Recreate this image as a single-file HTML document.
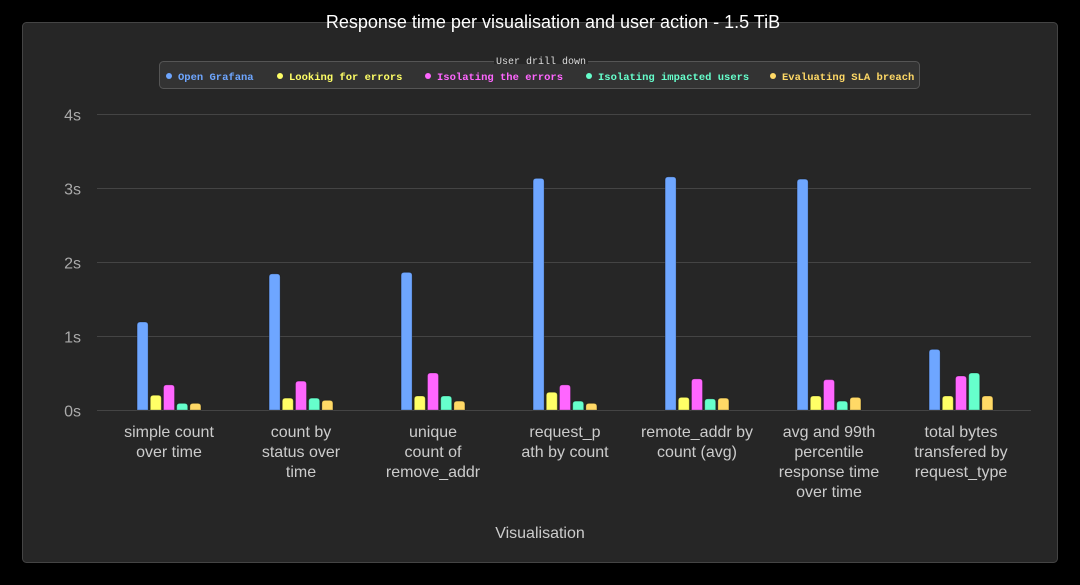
<!DOCTYPE html>
<html><head><meta charset="utf-8">
<style>
html,body{margin:0;padding:0;background:#000;width:1080px;height:585px;overflow:hidden}
svg{display:block}
.mono{font-family:"Liberation Mono",monospace}
.sans{font-family:"Liberation Sans",sans-serif}
</style></head>
<body>
<svg id="chart" width="1080" height="585">
  <rect x="0" y="0" width="1080" height="585" fill="#000"/>
  <rect x="22.5" y="22.5" width="1035" height="540" rx="4" fill="#262626" stroke="#444"/>
  <text x="553" y="28" text-anchor="middle" class="sans" font-size="18" fill="#fff">Response time per visualisation and user action - 1.5 TiB</text>
  <g id="legend">
    <rect x="159.5" y="61.5" width="760" height="27" rx="4" fill="#333" stroke="#555"/>
    <rect x="494" y="56" width="94" height="8" fill="#262626"/>
    <text x="541" y="64" text-anchor="middle" class="mono" font-size="10" fill="#ddd">User drill down</text>
  </g>
  <g id="grid"></g>
  <g id="bars"></g>
  <g id="xlabels"></g>
  <text x="540" y="538" text-anchor="middle" class="sans" font-size="16" fill="#ccc">Visualisation</text>
</svg>
<script>
const categories = [
  ["simple count","over time"],
  ["count by","status over","time"],
  ["unique","count of","remove_addr"],
  ["request_p","ath by count"],
  ["remote_addr by","count (avg)"],
  ["avg and 99th","percentile","response time","over time"],
  ["total bytes","transfered by","request_type"]
];
const seriesNames = ["Open Grafana","Looking for errors","Isolating the errors","Isolating impacted users","Evaluating SLA breach"];
const seriesColors = ["#6ea6ff","#ffff66","#ff66ff","#66ffcc","#ffd966"];
const openGrafana = [1.19,1.84,1.86,3.13,3.15,3.12,0.82];
const lookingForErrors = [0.20,0.16,0.19,0.24,0.17,0.19,0.19];
const isolatingErrors = [0.34,0.39,0.50,0.34,0.42,0.41,0.46];
const isolatingUsers = [0.09,0.16,0.19,0.12,0.15,0.12,0.50];
const evaluatingSLA = [0.09,0.13,0.12,0.09,0.16,0.17,0.19];
const yTicks = [0,1,2,3,4];
const yTickLabels = ["0s","1s","2s","3s","4s"];

const series = [openGrafana, lookingForErrors, isolatingErrors, isolatingUsers, evaluatingSLA];
const NS = "http://www.w3.org/2000/svg";
const plotL = 103, plotR = 1027, y0 = 410, yTop = 114, yMax = 4;
const yScale = v => y0 - (v / yMax) * (y0 - yTop);
const groupW = (plotR - plotL) / categories.length;
const xCenter = i => plotL + groupW * (i + 0.5);
const barW = 11, barStep = 13.2;

function mk(tag, attrs, parent){
  const e = document.createElementNS(NS, tag);
  for (const k in attrs) e.setAttribute(k, attrs[k]);
  parent.appendChild(e);
  return e;
}

const grid = document.getElementById('grid');
yTicks.forEach((t, i) => {
  const y = Math.round(yScale(t)) + 0.5;
  const l = mk('line', {x1: 97, x2: 1031, y1: y, y2: y, stroke: '#444', 'stroke-width': 1}, grid);
  
  
  const tx = mk('text', {x: 81, y: y + 6, 'text-anchor': 'end', 'font-size': 16, fill: '#aaa', class: 'sans'}, grid);
  tx.textContent = yTickLabels[i];
  
  
});

const bars = document.getElementById('bars');
categories.forEach((c, i) => {
  const cx = xCenter(i);
  series.forEach((s, j) => {
    const x = cx - (series.length * barStep - (barStep - barW)) / 2 + j * barStep;
    const yt = yScale(s[i]);
    const p = mk('path', {
      d: `M${x},${y0} L${x},${yt+3} Q${x},${yt} ${x+3},${yt} L${x+barW-3},${yt} Q${x+barW},${yt} ${x+barW},${yt+3} L${x+barW},${y0} Z`,
      fill: seriesColors[j], stroke: 'rgba(0,0,0,0.25)', 'stroke-width': 1
    }, bars);
    
    
  });
});

const xl = document.getElementById('xlabels');
categories.forEach((lines, i) => {
  const t = mk('text', {x: xCenter(i), y: 437, 'text-anchor': 'middle', 'font-size': 16, fill: '#ccc', class: 'sans'}, xl);
  
  
  lines.forEach((ln, k) => {
    const ts = mk('tspan', {x: xCenter(i), dy: k === 0 ? 0 : 20}, t);
    ts.textContent = ln;
  });
});

const legend = document.getElementById('legend');
const legendX = [169, 280, 428, 589, 773];
seriesNames.forEach((n, j) => {
  const g = mk('g', {}, legend);
  
  
  mk('circle', {cx: legendX[j], cy: 76, r: 3, fill: seriesColors[j]}, g);
  const t = mk('text', {x: legendX[j] + 9, y: 80, 'font-size': 10.5, 'font-weight': 'bold', fill: seriesColors[j], class: 'mono'}, g);
  t.textContent = n;
});
</script>
</body></html>
